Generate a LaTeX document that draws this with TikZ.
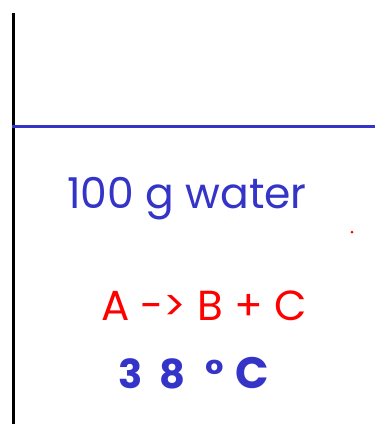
\documentclass[tikz,border=0pt]{standalone}
\usepackage{fontspec}
\setmainfont{Poppins}
\definecolor{penblue}{RGB}{52,52,200}
\definecolor{penred}{RGB}{255,0,0}
\tikzset{
  lbl/.style={inner sep=0pt, anchor=base},
}
\begin{document}
\begin{tikzpicture}[x=1pt,y=-1pt]
\fill[white] (0,0) rectangle (375,424);
\useasboundingbox (0,0) rectangle (375,424);
\draw[line width=3pt, black] (13,13) -- (13,424);
\draw[line width=3pt, penblue] (12,126) -- (375,126);
\node[lbl, text=penblue, font=\fontsize{42.5}{42.5}\selectfont] (water) at (187,208) {100 g water};
\fill[penred] (352,232) circle (1.5);
\node[lbl, text=penred, font=\fontsize{42}{42}\selectfont] (rxn) at (204,320) {A -> B + C};
\node[lbl, text=penblue, font=\fontsize{40}{40}\selectfont\bfseries] (temp) at (194,388) {3\hspace{16pt}8\hspace{20pt}°\hspace{12pt}{\fontsize{44}{44}\selectfont C}};
\end{tikzpicture}
\end{document}
